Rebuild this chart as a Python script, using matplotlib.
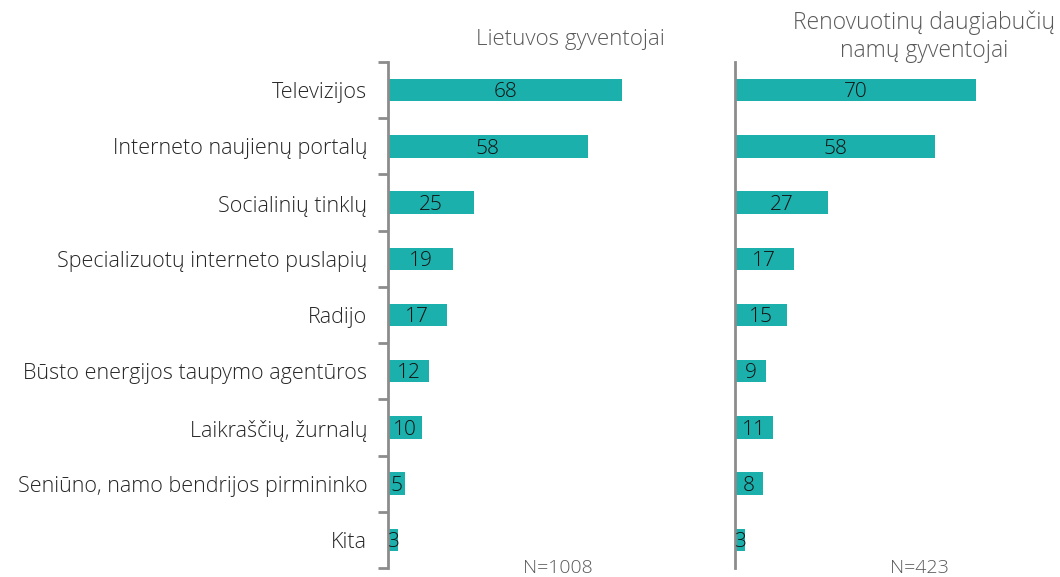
import numpy as np
import matplotlib
matplotlib.use('Agg')
import matplotlib.pyplot as plt

plt.rcParams['font.family'] = ['Open Sans', 'DejaVu Sans']
plt.rcParams['font.weight'] = 'light'

categories = ['Televizijos', 'Interneto naujienų portalų', 'Socialinių tinklų',
              'Specializuotų interneto puslapių', 'Radijo',
              'Būsto energijos taupymo agentūros', 'Laikraščių, žurnalų',
              'Seniūno, namo bendrijos pirmininko', 'Kita']
lietuva = [68, 58, 25, 19, 17, 12, 10, 5, 3]
renovuoti = [70, 58, 27, 17, 15, 9, 11, 8, 3]

titles = ['Lietuvos gyventojai', 'Renovuotinų daugiabučių\nnamų gyventojai']
notes = ['N=1008', 'N=423']

teal = '#1CB0AD'
grey = '#8C8C8C'
txt = '#262626'

fig = plt.figure(figsize=(10.6, 5.77), dpi=100)
ax1 = fig.add_axes([0.366, 0.0156, 0.294, 0.877])
ax2 = fig.add_axes([0.6934, 0.0156, 0.297, 0.877])

y = np.arange(len(categories))

for ax, vals, xmax in ((ax1, lietuva, 90.4), (ax2, renovuoti, 91.3)):
    ax.barh(y, vals, height=0.4, color=teal)
    for yi, v in zip(y, vals):
        ax.text(v / 2, yi + 0.04, str(v), ha='center', va='center', fontsize=15,
                color='#111111')
    ax.set_xlim(0, xmax)
    ax.set_ylim(len(categories) - 0.5, -0.5)
    ax.set_xticks([])
    for s in ('top', 'right', 'bottom'):
        ax.spines[s].set_visible(False)
    ax.spines['left'].set_color(grey)
    ax.spines['left'].set_linewidth(2)

ax1.set_yticks(np.arange(len(categories) + 1) - 0.5, minor=True)
ax1.set_yticks(y)
ax1.set_yticklabels(categories, fontsize=15.5, color=txt)
ax1.tick_params(axis='y', which='major', length=0, pad=15)
ax1.tick_params(axis='y', which='minor', length=7, width=2, color=grey)
ax2.set_yticks([])

fig.text(0.538, 0.931, titles[0], ha='center', va='center', fontsize=16, color='#595959')
fig.text(0.872, 0.936, titles[1], ha='center', va='center', fontsize=16.5,
         color='#595959', linespacing=1.2)
fig.text(0.526, 0.016, notes[0], ha='center', va='center', fontsize=14, color='#595959')
fig.text(0.867, 0.016, notes[1], ha='center', va='center', fontsize=14, color='#595959')

plt.savefig('out.png', dpi=100)
